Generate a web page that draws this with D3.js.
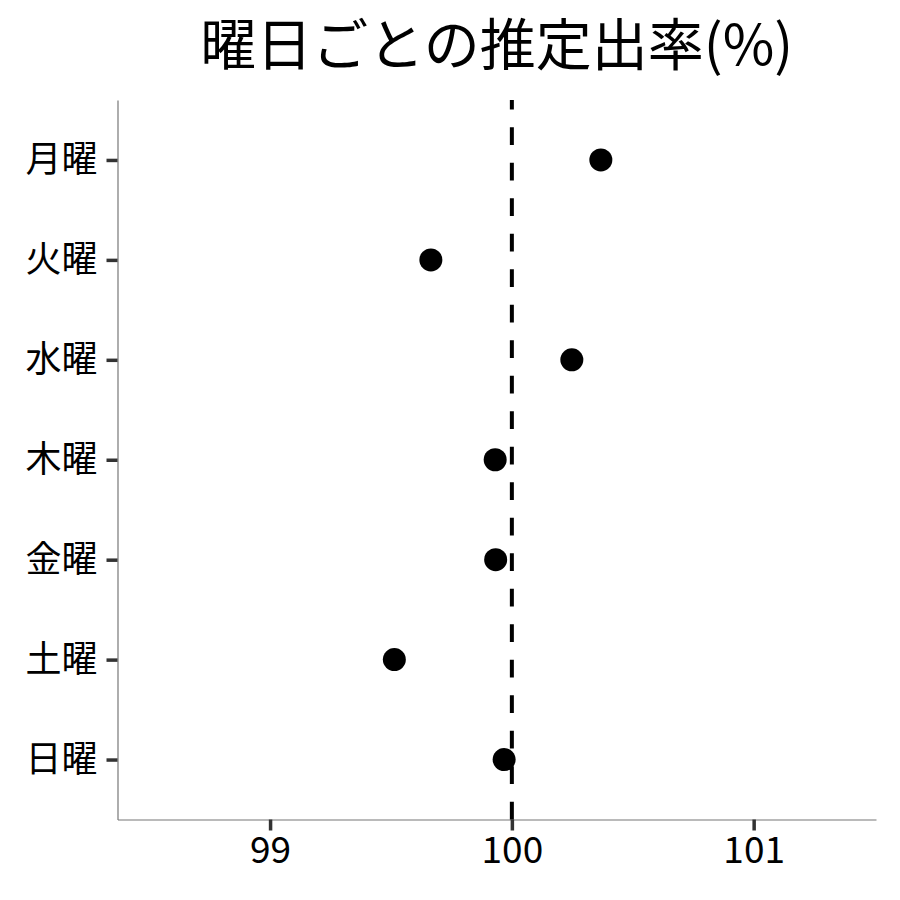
<!DOCTYPE html>
<html>
<head>
<meta charset="utf-8">
<script src="https://cdn.jsdelivr.net/npm/d3@7"></script>
<style>
  body { margin: 0; background: #fff; }
  text { font-family: "Noto Sans CJK JP", "Noto Sans", sans-serif; }
</style>
</head>
<body>
<div id="chart"></div>
<script>
var days = ["月曜", "火曜", "水曜", "木曜", "金曜", "土曜", "日曜"];
var rates = [100.368, 99.665, 100.248, 99.931, 99.933, 99.514, 99.968];
var xTicks = [99, 100, 101];
var refLine = 100;
var title = "曜日ごとの推定出率(%)";

var W = 900, H = 900;
var pLeft = 117.5, pRight = 876, pTop = 100, pBottom = 819.5;

var svg = d3.select("#chart").append("svg")
	.attr("width", W).attr("height", H);

var x = d3.scaleLinear().domain([98.369, 101.506]).range([pLeft, pRight]);
var y = d3.scalePoint().domain(days).range([pTop, pBottom]).padding(0.6);

// title, centred on the panel
svg.append("text")
	.attr("x", (pLeft + pRight) / 2).attr("y", 65)
	.attr("text-anchor", "middle")
	.attr("font-size", 56)
	.text(title);

// axes
var xAxis = svg.append("g").attr("transform", "translate(0," + pBottom + ")")
	.call(d3.axisBottom(x).tickValues(xTicks).tickSize(11).tickSizeOuter(0).tickPadding(6).tickFormat(d3.format("d")));
var yAxis = svg.append("g").attr("transform", "translate(" + pLeft + ",0)")
	.call(d3.axisLeft(y).tickSize(11).tickSizeOuter(0).tickPadding(9));

[xAxis, yAxis].forEach(function(a){
	a.select(".domain").attr("stroke", "#777").attr("stroke-width", 1.2);
	a.selectAll(".tick line").attr("stroke", "#333").attr("stroke-width", 3.5);
	a.selectAll(".tick text").attr("fill", "#000").attr("font-family", "Noto Sans CJK JP");
});
xAxis.selectAll(".tick text").attr("font-size", 37);
yAxis.selectAll(".tick text").attr("font-size", 36);

// dashed reference line, drawn bottom to top
svg.append("line")
	.attr("x1", x(refLine)).attr("x2", x(refLine))
	.attr("y1", pBottom).attr("y2", pTop)
	.attr("stroke", "#000").attr("stroke-width", 4)
	.attr("stroke-dasharray", "17.7,17.8");

// points
svg.append("g").selectAll("circle").data(days)
	.enter().append("circle")
	.attr("cx", function(d, i){ return x(rates[i]); })
	.attr("cy", function(d){ return y(d); })
	.attr("r", 11.5)
	.attr("fill", "#000");
</script>
</body>
</html>
